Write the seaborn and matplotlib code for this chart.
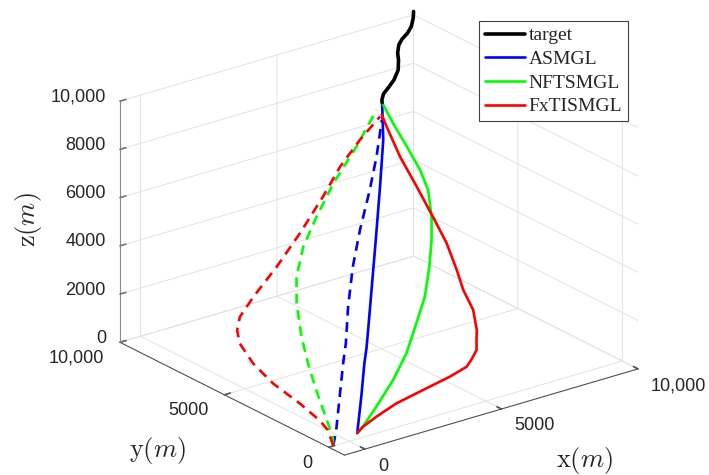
import numpy as np
import matplotlib
matplotlib.use("Agg")
import matplotlib.pyplot as plt
import seaborn as sns
from mpl_toolkits.mplot3d import proj3d

sns.set_theme(style="white")
plt.rcParams["font.family"] = ["Liberation Sans", "DejaVu Sans"]
plt.rcParams["mathtext.fontset"] = "cm"

# ---------------- data (metres) ----------------
target_x = [10000, 9690, 9260, 8870, 8460, 8130, 7720, 7430, 6960, 6410, 5950, 5520, 5210, 5080]
target_y = [10000, 9610, 9140, 8810, 8540, 8260, 7780, 7360, 6760, 6240, 5890, 5580, 5250, 5070]
target_z = [10140, 10140, 10140, 10140, 10140, 10140, 10140, 10140, 10140, 10140, 10140, 10140, 10140, 10140]

asmgl_x = [560, 1090, 1570, 1800, 2060, 2620, 3310, 4000, 4670, 5080]
asmgl_y = [350, 850, 1330, 1530, 1790, 2360, 3060, 3770, 4480, 5070]
asmgl_z = [0, 1110, 2130, 2590, 3150, 4380, 5910, 7450, 8990, 10140]

nftsmgl_x = [560, 810, 1490, 2340, 3080, 3740, 4320, 4800, 5170, 5430, 5610, 5560, 5380, 5180, 5080]
nftsmgl_y = [350, 410, 650, 960, 1290, 1680, 2030, 2440, 2820, 3160, 3560, 3880, 4280, 4680, 5070]
nftsmgl_z = [0, 150, 660, 1340, 2060, 2910, 3670, 4580, 5400, 6130, 7000, 7710, 8570, 9430, 10140]

fxtismgl_x = [560, 810, 1370, 2180, 3230, 4270, 4940, 5170, 5450, 5570, 5680, 5790, 5680, 5680,
              5640, 5470, 5270, 5040, 4930, 4890]
fxtismgl_y = [350, 410, 500, 600, 690, 770, 840, 920, 1030, 1190, 1320, 1640, 1970, 2280,
              2710, 3150, 3660, 4160, 4660, 4840]
fxtismgl_z = [0, 150, 340, 580, 750, 920, 1080, 1250, 1520, 1830, 2150, 2810, 3530, 4220,
              5150, 6120, 7210, 8310, 9380, 9800]

# second interceptor of each method (dashed)
asmgl2_x = [-570, -310, 230, 770, 1090, 1670, 2310, 2930, 3610, 4170, 4780]
asmgl2_y = [20, 220, 760, 1300, 1590, 2240, 2850, 3320, 3740, 4150, 4690]
asmgl2_z = [0, 470, 1440, 2410, 3000, 4050, 5230, 6340, 7590, 8600, 9690]

nftsmgl2_x = [-570, -440, -150, 150, 500, 850, 1330, 1730, 2240, 2800, 3440, 4170, 4890]
nftsmgl2_y = [20, 220, 990, 1780, 2630, 3400, 4260, 4790, 5130, 5230, 5260, 5110, 5090]
nftsmgl2_z = [0, 230, 770, 1300, 1920, 2570, 3420, 4160, 5090, 6100, 7260, 8600, 9900]

fxtismgl2_x = [-570, -370, -290, -180, -80, 70, 270, 450, 680, 1090, 1730, 2420, 3150, 3740, 4300, 4820]
fxtismgl2_y = [20, 540, 1050, 2140, 3550, 4700, 5600, 5960, 6130, 6020, 5740, 5530, 5380, 5330, 5120, 4830]
fxtismgl2_z = [0, 350, 510, 700, 880, 1160, 1530, 1860, 2260, 3000, 4160, 5410, 6750, 7820, 8830, 9760]

x_lim = [-750, 10000]
y_lim = [-750, 10000]
z_lim = [0, 10000]
xy_ticks = [0, 5000, 10000]
xy_ticklabels = ["0", "5000", "10,000"]
z_ticks = [0, 2000, 4000, 6000, 8000, 10000]
z_ticklabels = ["0", "2000", "4000", "6000", "8000", "10,000"]

# ---------------- figure ----------------
W, H = 709, 475
fig = plt.figure(figsize=(W / 100, H / 100), dpi=100)
S0 = 475.0
ax = fig.add_axes([(W / 2 - S0 / 2) / W, 0, S0 / W, 1], projection="3d", proj_type="ortho")
ax.set_box_aspect((1, 1, 0.707))
ax.view_init(elev=22.6, azim=-127.4)
ax.computed_zorder = False

lw = 1.9
dash = (0, (3.7, 2.5))
ax.plot(asmgl2_x, asmgl2_y, asmgl2_z, color="#0000ff", lw=lw, ls=dash, zorder=2)
ax.plot(nftsmgl2_x, nftsmgl2_y, nftsmgl2_z, color="#00ff00", lw=lw, ls=dash, zorder=2)
ax.plot(fxtismgl2_x, fxtismgl2_y, fxtismgl2_z, color="#ff0000", lw=lw, ls=dash, zorder=2)
l2, = ax.plot(asmgl_x, asmgl_y, asmgl_z, color="#0000ff", lw=lw, label="ASMGL", zorder=3)
l3, = ax.plot(nftsmgl_x, nftsmgl_y, nftsmgl_z, color="#00ff00", lw=lw, label="NFTSMGL", zorder=3)
l4, = ax.plot(fxtismgl_x, fxtismgl_y, fxtismgl_z, color="#ff0000", lw=lw, label="FxTISMGL", zorder=3)
l1, = ax.plot(target_x, target_y, target_z, color="black", lw=2.6, label="target", zorder=4)

ax.set_xlim(*x_lim)
ax.set_ylim(*y_lim)
ax.set_zlim(*z_lim)
ax.set_xticks(xy_ticks)
ax.set_yticks(xy_ticks)
ax.set_zticks(z_ticks)
ax.set_xticklabels([])
ax.set_yticklabels([])
ax.set_zticklabels([])
for a in (ax.xaxis, ax.yaxis, ax.zaxis):
    a.set_pane_color((1, 1, 1, 1))
    a.pane.set_edgecolor((1, 1, 1, 0))
    a.line.set_linewidth(0.8)
    a._axinfo["grid"]["color"] = "#e2e2e2"
    a._axinfo["grid"]["linewidth"] = 0.7
    a._axinfo["tick"]["inward_factor"] = 0.0
    a._axinfo["tick"]["outward_factor"] = 0.25
ax.xaxis.line.set_color("#505050")
ax.yaxis.line.set_color("#505050")
ax.zaxis.line.set_color("#8a8a8a")
ax.tick_params(axis="both", colors="#555555")
ax.tick_params(axis="z", colors="#777777")
ax.grid(True)

# tick labels (placed just outside the rulers, MATLAB style)
tk = dict(fontsize=13, color="#262626", zorder=5)
for v, s in zip(xy_ticks, xy_ticklabels):
    ax.text(v - 480, y_lim[0] - 1250, 0, s, ha="left", va="center", **tk)
for v, s in zip(xy_ticks, xy_ticklabels):
    ax.text(x_lim[0] - 1110, v - 680, 0, s, ha="right", va="center", **tk)
for v, s in zip(z_ticks, z_ticklabels):
    ax.text(x_lim[0] - 140, y_lim[1] + 490, v, s, ha="right", va="center", **tk)

# axis labels
fig.text(28 / W, 1 - 220 / H, r"$\mathrm{z}(m)$", rotation=90, ha="center", va="center",
         fontsize=19, color="#262626")
fig.text(157 / W, 1 - 451 / H, r"$\mathrm{y}(m)$", ha="center", va="center",
         fontsize=19, color="#262626")
fig.text(584 / W, 1 - 461 / H, r"$\mathrm{x}(m)$", ha="center", va="center",
         fontsize=19, color="#262626")

# legend
leg = fig.legend(handles=[l1, l2, l3, l4], loc="upper left",
                 bbox_to_anchor=(479 / W, 1 - 21 / H), bbox_transform=fig.transFigure,
                 borderaxespad=0, frameon=True, fancybox=False, framealpha=1,
                 prop={"family": "Liberation Serif", "size": 14},
                 handlelength=2.05, handletextpad=0.2, labelspacing=0.31, borderpad=0.3)
leg.get_frame().set_edgecolor("#404040")
leg.get_frame().set_linewidth(0.8)

# ---- fit the 3D box to the target layout ----
def to_px(x, y, z):
    xs, ys, _ = proj3d.proj_transform(np.atleast_1d(float(x)), np.atleast_1d(float(y)),
                                      np.atleast_1d(float(z)), ax.get_proj())
    d = ax.transData.transform(np.column_stack([xs, ys]))
    return d[0, 0], H - d[0, 1]

fig.canvas.draw()
xe = to_px(x_lim[1], y_lim[0], z_lim[0])
ye = to_px(x_lim[0], y_lim[1], z_lim[0])
ce = to_px(sum(x_lim) / 2, sum(y_lim) / 2, sum(z_lim) / 2)
k = 518.0 / (xe[0] - ye[0])
S = S0 * k
acx, acy = W / 2, H / 2
ncx = 379 - k * (ce[0] - acx)
ncy = 235 - k * (ce[1] - acy)
ax.set_position([(ncx - S / 2) / W, 1 - (ncy + S / 2) / H, S / W, S / H])

fig.savefig("out.png", dpi=100)
